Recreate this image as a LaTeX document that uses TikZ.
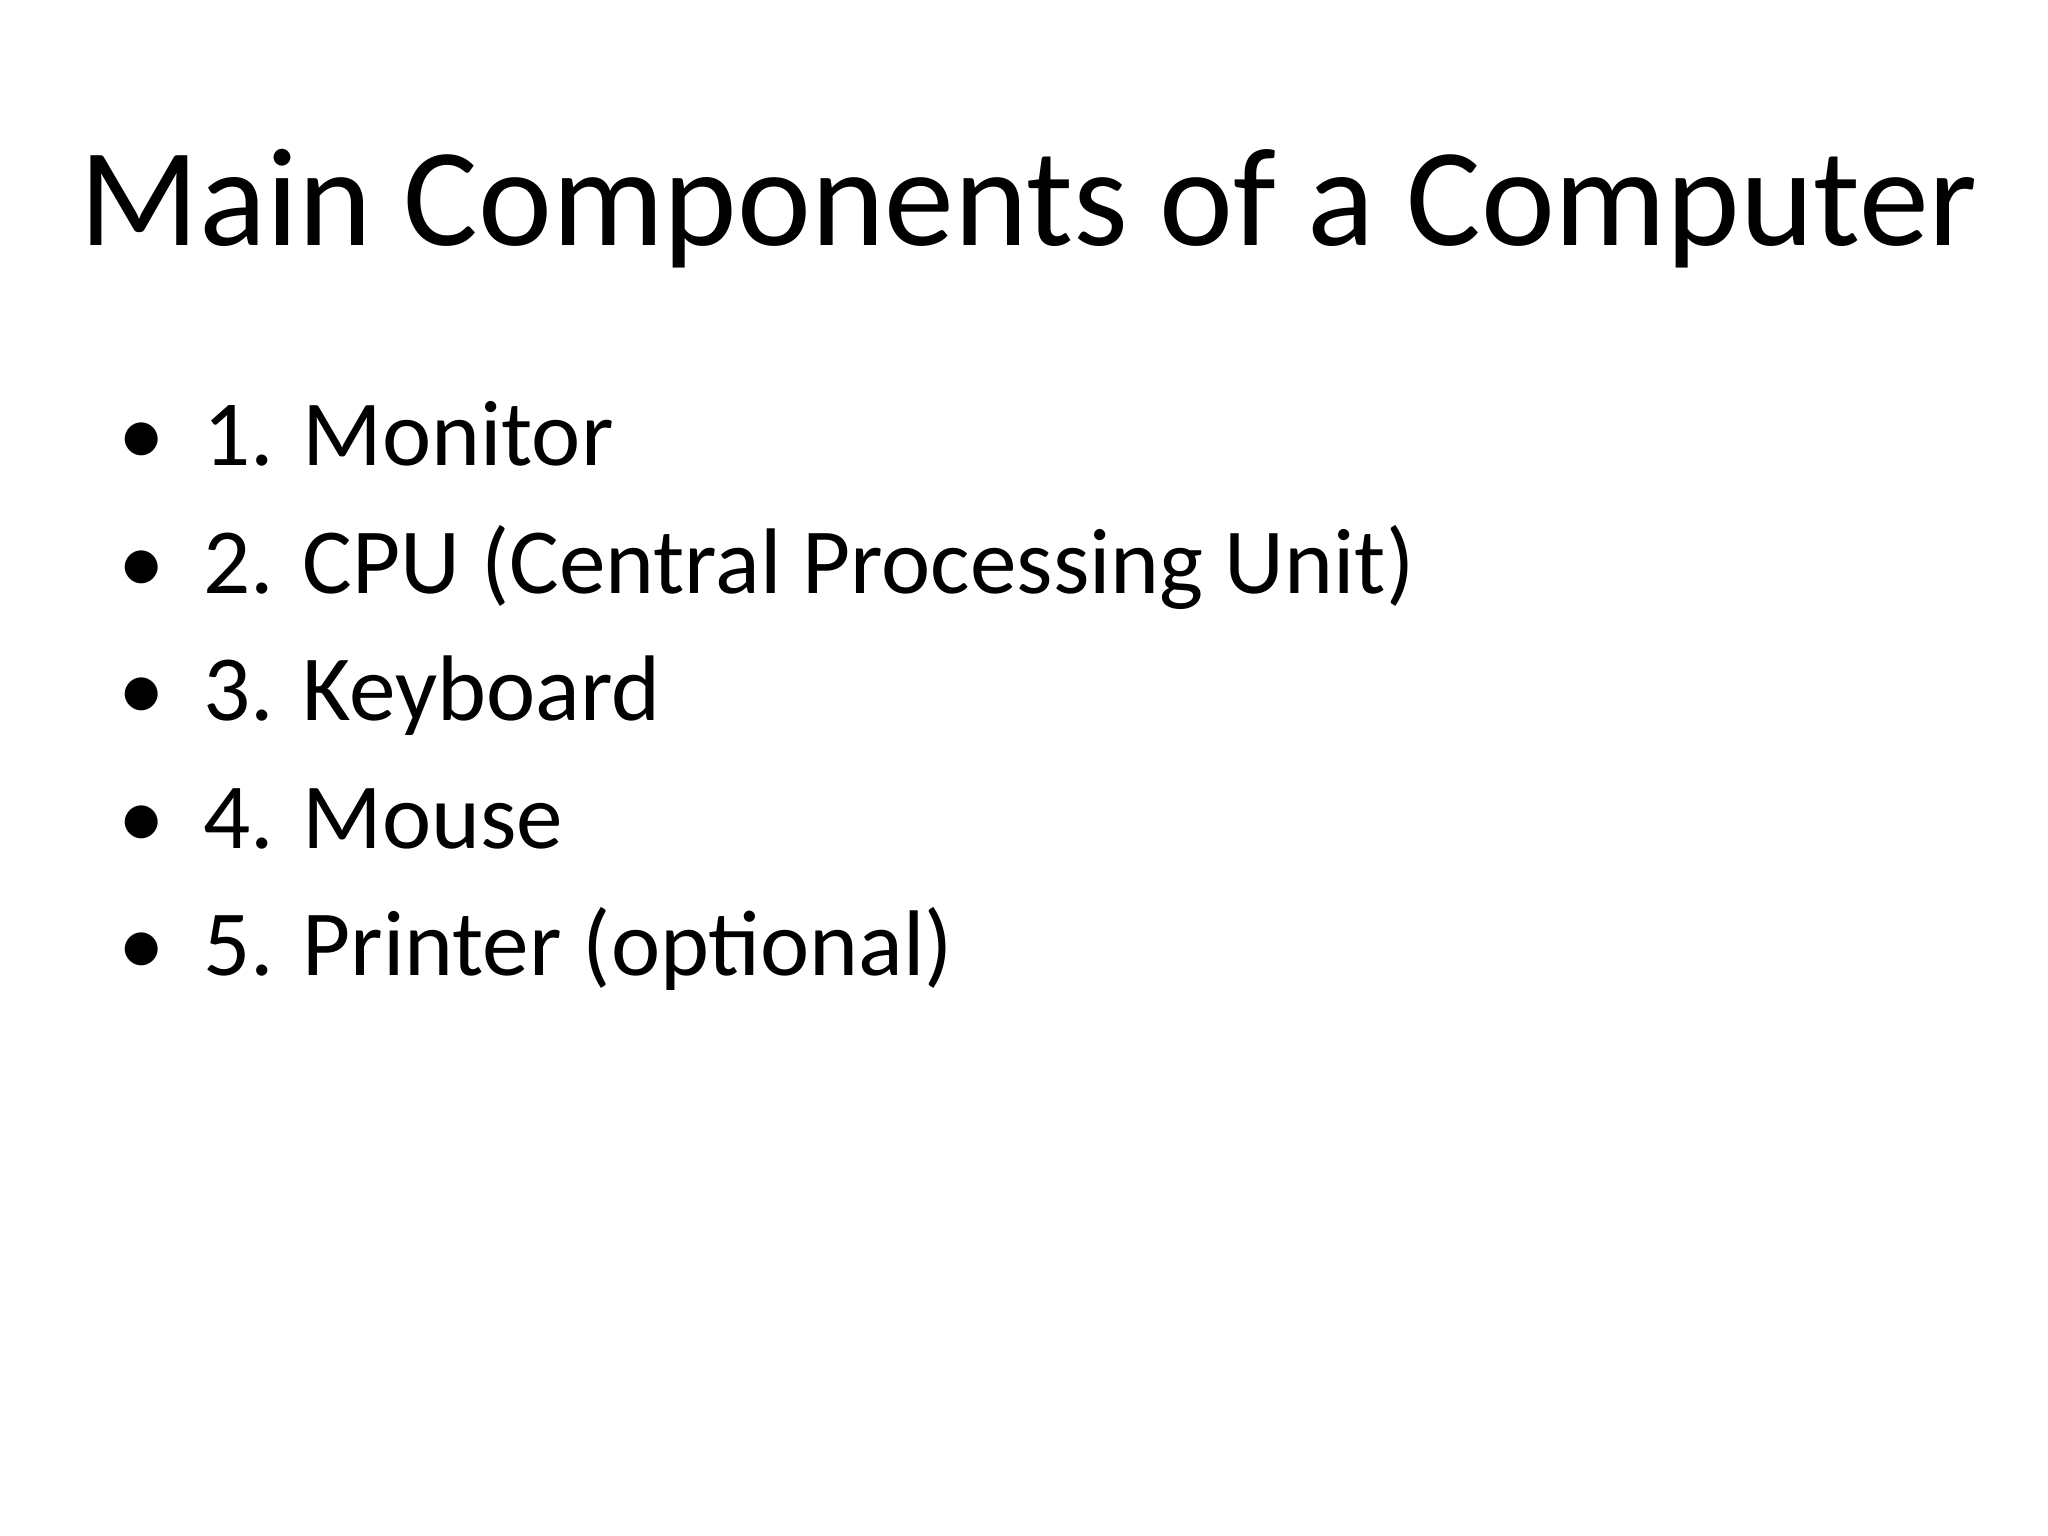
\documentclass[tikz,border=0pt]{standalone}
\usepackage{fontspec}
\setmainfont{Carlito}
\begin{document}
\begin{tikzpicture}[x=0.01cm,y=-0.01cm,
  item/.style={anchor=base west,inner sep=0pt,font=\fontsize{26.5pt}{30pt}\selectfont},
  dot/.style={anchor=base,inner sep=0pt,font=\fontsize{26.5pt}{30pt}\selectfont}]
\useasboundingbox (0,0) rectangle (2048,1536);
\node[anchor=base,inner sep=0pt,font=\fontsize{39.8pt}{44pt}\selectfont] (title) at (1029,245) {Main Components of a Computer};
\foreach \n/\y/\t in {a/465/{1. Monitor},b/593/{2. CPU (Central Processing Unit)},c/720/{3. Keyboard},d/848/{4. Mouse},e/975/{5. Printer (optional)}}{
  \node[dot] (b\n) at (142,\y) {•};
  \node[item] (t\n) at (203,\y) {\t};
}
\end{tikzpicture}
\end{document}
